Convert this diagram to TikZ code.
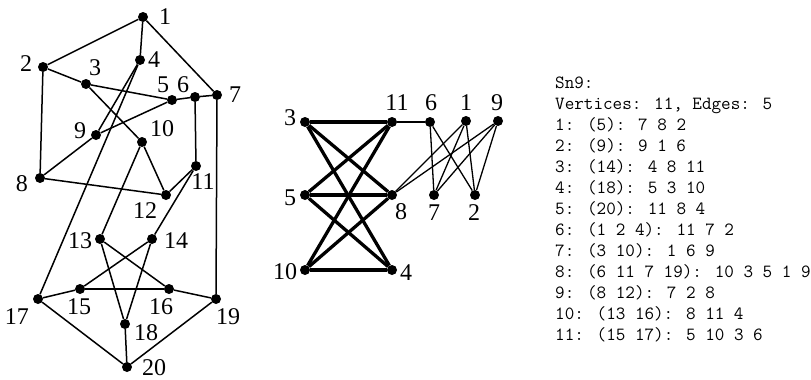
\documentclass[tikz,border=0pt]{standalone}
\usepackage{fontspec}
\setmainfont{Liberation Serif}
\begin{document}
\begin{tikzpicture}[x=1pt,y=-1pt,
  dot/.style={circle,fill=black,inner sep=0pt,minimum size=10pt},
  lbl/.style={font=\fontsize{24}{24}\selectfont,inner sep=0pt},
  ledge/.style={line width=1.5pt},
  tkedge/.style={line width=3.3pt},
  tnedge/.style={line width=1.3pt},
  txt/.style={font=\fontsize{18.6}{21}\selectfont\ttfamily,anchor=base west,inner sep=0pt}]
\useasboundingbox (0,0) rectangle (811,380);
% ---------- left graph ----------
\foreach \n/\x/\y/\lx/\ly in {
  1/143/17/165/17, 2/43/67/26/64, 3/86/84/95/68, 4/140/60/154/60,
  5/172/100/163/85, 6/195/97/183/85, 7/217/95/235/95, 8/40/178/22/184,
  9/96/135/80/131, 10/142/142/162/129, 11/196/166/203/182, 12/166/195/145/211,
  13/100/239/80/241, 14/152/239/176/241, 15/80/289/79/307, 16/169/289/161/307,
  17/38/299/17/317, 18/125/324/146/333, 19/216/299/228/317, 20/127/367/154/368}{
  \node[dot] (a\n) at (\x,\y) {};
  \node[lbl] (la\n) at (\lx,\ly) {\n};
}
\foreach \u/\v in {1/2,1/4,1/7,2/3,2/8,3/5,3/10,4/9,4/17,5/6,5/9,6/7,6/11,7/19,
  8/9,8/12,10/12,10/13,11/12,11/14,13/16,13/18,14/15,14/18,15/16,15/17,16/19,
  17/20,18/20,19/20}
  \draw[ledge] (a\u) -- (a\v);
% ---------- middle graph ----------
\foreach \n/\x/\y/\lx/\ly in {
  3/305/122/290/118, 11/392/122/397/103, 6/430/122/431/103, 1/466/121/466/103,
  9/498/121/497/103, 5/305/195/290/198, 8/392/195/401/212, 7/434/195/434/213,
  2/475/195/474/213, 10/305/270/285/272, 4/392/270/406/273}{
  \node[dot] (b\n) at (\x,\y) {};
  \node[lbl] (lb\n) at (\lx,\ly) {\n};
}
\foreach \u in {3,5,10}
  \foreach \v in {11,8,4}
    \draw[tkedge] (b\u) -- (b\v);
\foreach \u/\v in {11/6,6/7,6/2,1/7,1/2,1/8,9/8,9/7,9/2}
  \draw[tnedge] (b\u) -- (b\v);
% ---------- text ----------
\foreach \k/\t in {0/{Sn9:},1/{Vertices: 11, Edges: 5},2/{1: (5): 7 8 2},
  3/{2: (9): 9 1 6},4/{3: (14): 4 8 11},5/{4: (18): 5 3 10},6/{5: (20): 11 8 4},
  7/{6: (1 2 4): 11 7 2},8/{7: (3 10): 1 6 9},9/{8: (6 11 7 19): 10 3 5 1 9},
  10/{9: (8 12): 7 2 8},11/{10: (13 16): 8 11 4},12/{11: (15 17): 5 10 3 6}}
  \node[txt] (t\k) at (555,{88.5+21*\k}) {\t};
\end{tikzpicture}
\end{document}
